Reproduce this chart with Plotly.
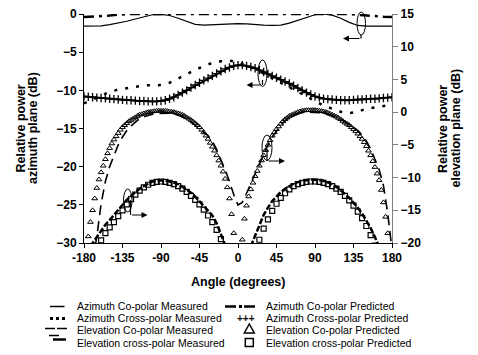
import plotly.graph_objects as go

# ---------------- data ----------------
ang10 = [-180, -170, -160, -150, -140, -130, -120, -110, -100, -90, -80, -70, -60, -50, -40, -30, -20, -10,
         0, 10, 20, 30, 40, 50, 60, 70, 80, 90, 100, 110, 120, 130, 140, 150, 160, 170, 180]

az_co_meas = [-1.6, -1.6, -1.55, -1.4, -1.2, -0.95, -0.65, -0.35, -0.1, -0.05, -0.2, -0.55, -1.0, -1.35, -1.45, -1.4, -1.35, -1.3,
              -1.25, -1.3, -1.4, -1.45, -1.5, -1.45, -1.2, -0.8, -0.4, -0.1, 0.0, -0.15, -0.55, -1.1, -1.5, -1.6, -1.6, -1.6, -1.6]

az_co_pred = [-0.4, -0.35, -0.3, -0.2, -0.1, 0, 0, 0, 0, 0, 0, 0, 0, 0, 0, 0, 0, 0,
              0, 0, 0, 0, 0, 0, 0, 0, 0, 0, 0, 0, 0, 0, -0.1, -0.2, -0.3, -0.35, -0.4]

az_cross_meas = [-11.7, -11.2, -10.7, -10.2, -9.9, -9.7, -9.5, -9.35, -9.35, -9.3, -9.0, -8.5, -7.9, -7.3, -6.8, -6.4, -6.2, -6.1,
                 -6.3, -6.7, -7.2, -7.8, -8.4, -9.0, -9.6, -10.2, -10.8, -11.4, -12.0, -12.4, -12.8, -13.0, -12.8, -12.4, -12.2, -12.0, -11.9]

ang5 = [-180 + 5 * i for i in range(73)]

az_cross_pred = [-10.8, -10.85, -10.9, -10.95, -11.0, -11.05, -11.1, -11.15, -11.2, -11.25, -11.3, -11.3,
                 -11.35, -11.4, -11.4, -11.45, -11.45, -11.45, -11.4, -11.3, -11.1, -10.9, -10.6, -10.3,
                 -10.0, -9.65, -9.3, -9.0, -8.7, -8.4, -8.1, -7.8, -7.5, -7.2, -7.0, -6.8,
                 -6.7,
                 -6.7, -6.8, -6.95, -7.1, -7.35, -7.6, -7.85, -8.1, -8.35, -8.6, -8.85, -9.1,
                 -9.4, -9.7, -10.0, -10.3, -10.55, -10.8, -10.95, -11.1, -11.15, -11.2, -11.25, -11.3,
                 -11.3, -11.3, -11.25, -11.2, -11.2, -11.15, -11.1, -11.1, -11.05, -11.0, -10.95, -10.9]

# elevation co-polar measured, -170 .. 180 every 5 deg (right axis)
el_co_meas_ang = [-170 + 5 * i for i in range(71)]
el_co_meas = [-23, -19, -14.0, -10.6, -8.3, -6.5, -5.0, -3.8, -2.8, -2.1, -1.5, -1.0, -0.7, -0.45, -0.3, -0.2, -0.15, -0.1,
              -0.15, -0.25, -0.45, -0.7, -1.05, -1.5, -2.0, -2.6, -3.1, -3.6, -4.4, -5.7, -7.3, -8.8, -10.6, -12.6,
              -14.2,
              -13.8, -12.4, -10.9, -9.4, -7.9, -6.4, -5.0, -3.8, -2.8, -2.0, -1.3, -0.8, -0.45, -0.2, -0.05, 0, 0, 0,
              -0.1, -0.2, -0.35, -0.55, -0.8, -1.1, -1.45, -1.85, -2.3, -2.8, -3.5, -4.4, -5.6, -7.1, -8.8, -11.2, -15.5, -21]

# elevation co-polar predicted, -180 .. 180 every 2.5 deg (right axis)
el_co_pred_ang = [-180 + 2.5 * i for i in range(145)]
el_co_pred = [-26, -21.5, -19, -16.8, -15, -13.2, -11.6, -10.3, -9.2, -8.2, -7.2, -6.3,
              -5.5, -4.8, -4.2, -3.7, -3.2, -2.7, -2.3, -2.0, -1.7, -1.4, -1.2, -1.0,
              -0.8, -0.6, -0.4, -0.3, -0.2, -0.1, 0, 0.05, 0.1, 0.15, 0.2, 0.2,
              0.2, 0.2, 0.2, 0.15, 0.1, 0.05, 0, -0.1, -0.2, -0.3, -0.4, -0.6,
              -0.8, -1.0, -1.2, -1.45, -1.7, -2.0, -2.3, -2.7, -3.1, -3.6, -4.1, -4.7,
              -5.3, -5.9, -6.6, -7.4, -8.2, -9.1, -10.2, -11.5, -13.2, -15.6, -18.5, -23,
              -35,
              -24, -19.5, -16.3, -14.3, -12.9, -11.8, -10.8, -9.8, -9.0, -8.2, -7.4, -6.6,
              -5.8, -5.0, -4.3, -3.6, -3.1, -2.6, -2.2, -1.8, -1.4, -1.1, -0.85, -0.6,
              -0.45, -0.3, -0.15, 0, 0.1, 0.2, 0.25, 0.3, 0.3, 0.3, 0.3, 0.3,
              0.25, 0.2, 0.15, 0.1, 0, -0.1, -0.25, -0.4, -0.55, -0.7, -0.9, -1.1,
              -1.35, -1.6, -1.8, -2.0, -2.3, -2.6, -2.9, -3.3, -3.7, -4.1, -4.6, -5.2,
              -5.9, -6.6, -7.5, -8.4, -9.4, -10.4, -11.9, -13.8, -16, -18.5, -22, -27]

# elevation cross-polar measured (right axis), two lobes
el_x_meas_ang = [-172.5, -170, -165, -160, -155, -150, -145, -140, -135, -130, -125, -120, -115, -110, -105, -100,
                 -95, -90, -85, -80, -75, -70, -65, -60, -55, -50, -45, -40, -35, -30, -25, -20, -15,
                 None,
                 15, 20, 25, 30, 35, 40, 45, 50, 55, 60, 65, 70, 75, 80, 85, 90, 95, 100, 105, 110, 115,
                 120, 125, 130, 135, 140, 145, 150, 155, 160, 165]
el_x_meas = [-20.5, -20, -19, -18, -17.2, -16.5, -15.7, -14.9, -14.1, -13.4, -12.8, -12.2, -11.7, -11.3, -10.9, -10.6,
             -10.45, -10.4, -10.45, -10.6, -10.8, -11.0, -11.4, -11.8, -12.3, -12.9, -13.6, -14.3, -15.0, -15.8, -17.0, -18.6, -20.3,
             None,
             -20.5, -18.8, -17.2, -15.7, -14.6, -13.6, -12.9, -12.2, -11.7, -11.3, -10.95, -10.7, -10.5, -10.4, -10.3, -10.3,
             -10.4, -10.5, -10.75, -11.0, -11.4, -11.9, -12.5, -13.1, -13.8, -14.6, -15.5, -16.5, -17.7, -19.1, -20.6]

# elevation cross-polar predicted (right axis)
el_x_pred_ang = [-165, -160, -155, -150, -145, -140, -135, -130, -125, -120, -115, -110, -105, -100, -95, -90,
                 -85, -80, -75, -70, -65, -60, -55, -50, -45, -40, -35, -30, -25, -20, -15,
                 20, 25, 30, 35, 40, 45, 50, 55, 60, 65, 70, 75, 80, 85, 90, 95, 100, 105, 110, 115, 120,
                 125, 130, 135, 140, 145, 150, 155, 160]
el_x_pred = [-21, -19.6, -18.5, -17.6, -16.8, -15.9, -15.0, -14.1, -13.3, -12.6, -12.0, -11.5, -11.1, -10.8, -10.65, -10.6,
             -10.65, -10.8, -11.0, -11.3, -11.7, -12.2, -12.8, -13.4, -14.1, -14.9, -15.8, -16.8, -18.0, -19.4, -21,
             -21, -19.5, -17.8, -16.4, -15.1, -14.0, -13.1, -12.4, -11.8, -11.3, -11.0, -10.8, -10.65, -10.6, -10.6,
             -10.65, -10.8, -11.0, -11.3, -11.7, -12.2, -12.8, -13.5, -14.3, -15.2, -16.2, -17.4, -18.8, -20.4]

x_ticks = [-180, -135, -90, -45, 0, 45, 90, 135, 180]

legend_left = ["Azimuth Co-polar Measured", "Azimuth Cross-polar Measured",
               "Elevation Co-polar Measured", "Elevation cross-polar Measured"]
legend_right = ["Azimuth Co-polar Predicted", "Azimuth Cross-polar Predicted",
                "Elevation Co-polar Predicted", "Elevation cross-polar Predicted"]

# ---------------- figure ----------------
FONT = "Liberation Sans, Arial, sans-serif"
OFF = 8                      # page body margin of the browser
W, H = 478 - OFF, 355 - OFF  # figure sits at (8,8) in the window
PL, PR, PT, PB = 84, 392, 14, 243   # plot area in window pixels
L, T = PL - OFF, PT - OFF
R, B = W - (PR - OFF), H - (PB - OFF)
PW, PH = PR - PL, PB - PT


def px(x):
    return (x - PL) / PW


def py(y):
    return (PB - y) / PH


fig = go.Figure()
K = "black"

fig.add_trace(go.Scatter(x=ang10, y=az_co_meas, mode="lines", line=dict(color=K, width=1.2)))
fig.add_trace(go.Scatter(x=ang10, y=az_co_pred, mode="lines",
                         line=dict(color=K, width=2.5, dash="10px,5px,3px,5px")))
fig.add_trace(go.Scatter(x=ang5, y=az_cross_pred, mode="lines+markers",
                         line=dict(color=K, width=2),
                         marker=dict(symbol="cross-thin", size=6, line=dict(color=K, width=1.3))))
fig.add_trace(go.Scatter(x=ang10, y=az_cross_meas, mode="lines",
                         line=dict(color=K, width=2.5, dash="3px,8px")))

fig.add_trace(go.Scatter(x=el_co_pred_ang, y=el_co_pred, mode="markers", yaxis="y2",
                         marker=dict(symbol="triangle-up-open", size=5, color=K, line=dict(width=1))))
fig.add_trace(go.Scatter(x=el_co_meas_ang, y=el_co_meas, mode="lines", yaxis="y2",
                         line=dict(color=K, width=1.6, dash="10px,6px")))
fig.add_trace(go.Scatter(x=el_x_pred_ang, y=el_x_pred, mode="markers", yaxis="y2",
                         marker=dict(symbol="square-open", size=5, color=K, line=dict(width=1.2))))
fig.add_trace(go.Scatter(x=el_x_meas_ang, y=el_x_meas, mode="lines", yaxis="y2", connectgaps=False,
                         line=dict(color=K, width=2.5, dash="6px,2px")))

tickfont = dict(family=FONT, size=12, color=K, weight="bold")
fig.update_layout(
    width=W, height=H, margin=dict(l=L, r=R, t=T, b=B, pad=0, autoexpand=False),
    paper_bgcolor="white", plot_bgcolor="white", showlegend=False,
    font=dict(family=FONT, color=K),
    xaxis=dict(range=[-180, 180], tickvals=x_ticks, ticktext=[str(v) for v in x_ticks],
               showgrid=False, zeroline=False, showline=True, linecolor=K, linewidth=1,
               ticks="outside", ticklen=4, tickcolor=K, tickfont=tickfont, ticklabeloverflow="allow"),
    yaxis=dict(range=[-30, 0], dtick=5, showgrid=False, zeroline=False, showline=True,
               linecolor=K, linewidth=1, ticks="outside", ticklen=4, tickcolor=K, tickfont=tickfont,
               ticklabeloverflow="allow"),
    yaxis2=dict(range=[-20, 15], dtick=5, overlaying="y", side="right", showgrid=False, zeroline=False,
                showline=True, linecolor="#7f7f7f", linewidth=1.2, ticks="outside", ticklen=5,
                tickcolor="#7f7f7f", tickfont=tickfont, ticklabeloverflow="allow"),
)

ann = []
titlefont = dict(family=FONT, size=12.5, color=K, weight="bold")
ann.append(dict(text="Angle (degrees)", x=px(238), y=py(281.5), xref="paper", yref="paper",
                showarrow=False, xanchor="center", yanchor="middle", font=titlefont))
for txt, xx in [("Relative power", 20), ("azimuth plane (dB)", 32.5),
                ("Relative power", 442.5), ("elevation plane (dB)", 455)]:
    ann.append(dict(text=txt, x=px(xx), y=py(128.5), xref="paper", yref="paper", textangle=-90,
                    showarrow=False, xanchor="center", yanchor="middle", font=titlefont))

legfont = dict(family=FONT, size=10.5, color=K)
rows = [305.5, 318, 330, 342.5]
for i, txt in enumerate(legend_left):
    ann.append(dict(text=txt, x=px(74.5), y=py(rows[i]), xref="paper", yref="paper",
                    showarrow=False, xanchor="left", yanchor="middle", font=legfont))
for i, txt in enumerate(legend_right):
    ann.append(dict(text=txt, x=px(263.5), y=py(rows[i]), xref="paper", yref="paper",
                    showarrow=False, xanchor="left", yanchor="middle", font=legfont))
ann.append(dict(text="+++", x=px(245.5), y=py(318.5), xref="paper", yref="paper",
                showarrow=False, xanchor="center", yanchor="middle",
                font=dict(family=FONT, size=10, color=K, weight="bold")))

# arrows of the axis markers (tip, tail offset in px)
for tipx, tipy, dx in [(343, 38.5, 18), (246.5, 85, 15.5), (147.5, 215, -17), (285, 161, -18)]:
    ann.append(dict(text="", x=px(tipx), y=py(tipy), xref="paper", yref="paper",
                    ax=dx, ay=0, showarrow=True, arrowhead=2, arrowsize=1, arrowwidth=1.2, arrowcolor=K))

shapes = []


def seg(x0, y0, x1, y1, w=1.2, dash=None):
    d = dict(type="line", xref="paper", yref="paper", x0=px(x0), y0=py(y0), x1=px(x1), y1=py(y1),
             line=dict(color=K, width=w))
    if dash:
        d["line"]["dash"] = dash
    shapes.append(d)


def ell(x0, y0, x1, y1):
    shapes.append(dict(type="circle", xref="paper", yref="paper", x0=px(x0), y0=py(y0), x1=px(x1), y1=py(y1),
                       line=dict(color=K, width=1)))


# axis marker ellipses and arrow stems
ell(357, 12, 365.5, 35)
seg(361, 35, 361, 38.5)
ell(258, 60, 267, 86.5)
seg(262.5, 80, 262.5, 85)
ell(123.5, 189, 132, 212)
seg(130.5, 200, 130.5, 215)
ell(262, 135, 272, 160.5)
seg(267, 150, 267, 161)

# legend keys
seg(50, 306.5, 64.5, 306.5, 1.5)
seg(50, 318.5, 65, 318.5, 3, "dot")
seg(45, 328.5, 55, 328.5, 1.5)
seg(57, 328.5, 67, 328.5, 1.5)
seg(49, 335.5, 59, 335.5, 1.5)
seg(53, 339.5, 66, 339.5, 2.5)
seg(225, 306.5, 236, 306.5, 2.5)
seg(239, 306.5, 242, 306.5, 3)
seg(244, 306.5, 255, 306.5, 2.5)
shapes.append(dict(type="path", xref="paper", yref="paper",
                   path="M {:.4f},{:.4f} L {:.4f},{:.4f} L {:.4f},{:.4f} Z".format(
                       px(244.3), py(333), px(254.3), py(333), px(249.3), py(324)),
                   line=dict(color=K, width=1.5)))
shapes.append(dict(type="rect", xref="paper", yref="paper", x0=px(245.3), y0=py(346.5),
                   x1=px(253.3), y1=py(338.5), line=dict(color=K, width=1.5)))

fig.update_layout(annotations=ann, shapes=shapes)
fig.write_html("out.html")
